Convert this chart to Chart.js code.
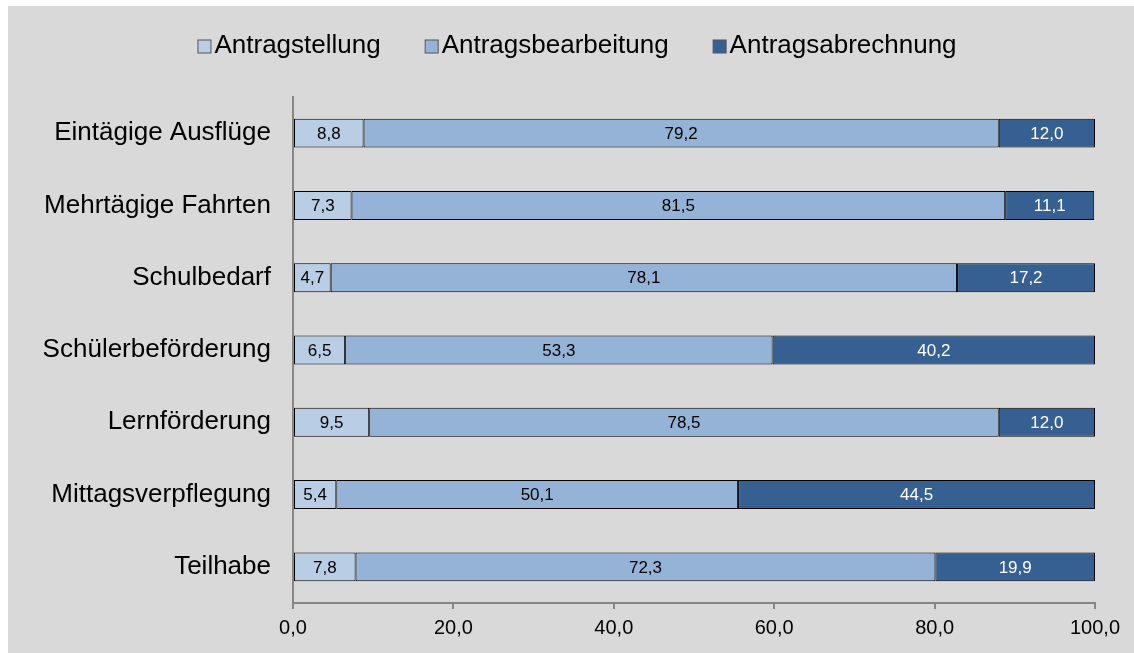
<!DOCTYPE html>
<html>
<head>
<meta charset="utf-8">
<script src="https://cdn.jsdelivr.net/npm/chart.js@4"></script>
<style>
  html, body { margin: 0; padding: 0; background: #fff; }
  #wrap { width: 1134px; height: 653px; }
</style>
</head>
<body>
<div id="wrap"><canvas id="chart" width="1134" height="653"></canvas></div>
<script>
// categories and series, top to bottom as in the picture
const categories = ["Eintägige Ausflüge", "Mehrtägige Fahrten", "Schulbedarf", "Schülerbeförderung", "Lernförderung", "Mittagsverpflegung", "Teilhabe"];
const antragstellung = [8.8, 7.3, 4.7, 6.5, 9.5, 5.4, 7.8];
const antragsbearbeitung = [79.2, 81.5, 78.1, 53.3, 78.5, 50.1, 72.3];
const antragsabrechnung = [12.0, 11.1, 17.2, 40.2, 12.0, 44.5, 19.9];
const xTicks = [0, 20, 40, 60, 80, 100];

const fmt = v => v.toFixed(1).replace(".", ",");
const FONT = "'Liberation Sans', Arial, sans-serif";

// white frame + grey panel
const bgPlugin = {
  id: "bg",
  beforeDraw(chart) {
    const c = chart.ctx;
    c.save();
    c.fillStyle = "#ffffff";
    c.fillRect(0, 0, chart.width, chart.height);
    c.fillStyle = "#d9d9d9";
    c.fillRect(8, 6, chart.width - 8, chart.height - 6);
    c.restore();
  }
};

// value labels centred in each segment
const valueLabels = {
  id: "valueLabels",
  afterDatasetsDraw(chart) {
    const c = chart.ctx;
    c.save();
    c.font = "17px " + FONT;
    c.textAlign = "center";
    c.textBaseline = "middle";
    chart.data.datasets.forEach((ds, i) => {
      const meta = chart.getDatasetMeta(i);
      meta.data.forEach((bar, j) => {
        c.fillStyle = i === 2 ? "#ffffff" : "#000000";
        c.fillText(fmt(ds.data[j]), (bar.x + bar.base) / 2, bar.y + 1);
      });
    });
    c.restore();
  }
};

// compact legend like the original (small box, tight gap)
const topLegend = {
  id: "topLegend",
  afterDraw(chart) {
    const c = chart.ctx;
    const box = 13, gap = 4, spacing = 44;
    c.save();
    c.font = "26px " + FONT;
    c.textBaseline = "middle";
    const items = chart.data.datasets.map(ds => ({
      text: ds.label, color: ds.backgroundColor, w: c.measureText(ds.label).width
    }));
    let total = items.reduce((s, it) => s + box + gap + it.w, 0) + spacing * (items.length - 1);
    let x = 577 - total / 2;
    const y = 46;
    items.forEach(it => {
      c.fillStyle = it.color;
      c.fillRect(x + 0.5, y - box / 2 + 0.5, box, box);
      c.strokeStyle = "#555555";
      c.lineWidth = 1;
      c.strokeRect(x + 0.5, y - box / 2 + 0.5, box, box);
      c.fillStyle = "#000000";
      c.fillText(it.text, x + box + gap, y);
      x += box + gap + it.w + spacing;
    });
    c.restore();
  }
};

const mkSet = (label, data, color) => ({
  label: label,
  data: data,
  backgroundColor: color,
  borderColor: "#000000",
  borderWidth: 1,
  borderSkipped: false,
  categoryPercentage: 1.0,
  barPercentage: 0.4
});

new Chart(document.getElementById("chart").getContext("2d"), {
  type: "bar",
  data: {
    labels: categories,
    datasets: [
      mkSet("Antragstellung", antragstellung, "#b9cde5"),
      mkSet("Antragsbearbeitung", antragsbearbeitung, "#95b3d7"),
      mkSet("Antragsabrechnung", antragsabrechnung, "#376092")
    ]
  },
  options: {
    indexAxis: "y",
    responsive: false,
    animation: false,
    layout: { padding: { left: 8, right: 39, top: 97, bottom: 6 } },
    plugins: {
      legend: { display: false },
      tooltip: { enabled: false }
    },
    scales: {
      x: {
        stacked: true,
        min: 0,
        max: 100,
        afterBuildTicks(scale) {
          scale.ticks = xTicks.map(v => ({ value: v }));
        },
        ticks: {
          callback: v => fmt(v),
          color: "#000000",
          font: { family: FONT, size: 20 },
          padding: 7,
          maxRotation: 0
        },
        grid: {
          drawOnChartArea: false,
          drawTicks: true,
          tickLength: 6,
          color: "#868686",
          lineWidth: 2
        },
        border: { display: true, color: "#868686", width: 2 }
      },
      y: {
        stacked: true,
        afterFit(scale) { scale.width = 285; },
        ticks: {
          color: "#000000",
          font: { family: FONT, size: 26 },
          padding: 22
        },
        grid: { drawOnChartArea: false, drawTicks: false },
        border: { display: true, color: "#868686", width: 2 }
      }
    }
  },
  plugins: [bgPlugin, valueLabels, topLegend]
});
</script>
</body>
</html>
